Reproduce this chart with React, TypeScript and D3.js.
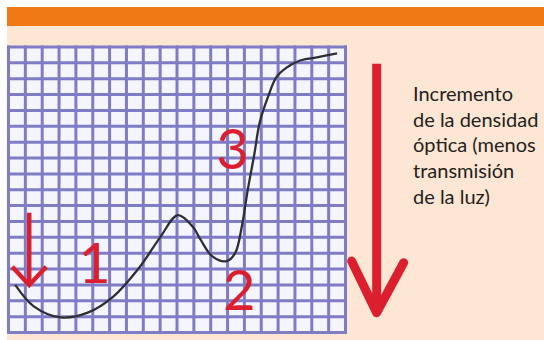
import React, { useEffect, useRef } from "react";
import * as d3 from "d3";

// curve traced on the grid (x in columns, y in rows from the bottom)
const curveX = [0.4, 1.5, 3.1, 4.7, 6.2, 7.8, 9.0, 10.05, 10.95, 11.4, 12.1, 12.95, 13.45, 13.85, 14.2, 14.6, 14.9, 15.4, 15.9, 16.5, 17.3, 18.3, 19.5];
const curveY = [3.0, 1.65, 0.95, 1.25, 2.25, 4.15, 6.0, 7.4, 6.65, 5.85, 4.8, 4.5, 5.0, 6.7, 9.0, 11.3, 13.2, 14.85, 16.1, 16.7, 17.15, 17.35, 17.6];

const stageLabels = ["1", "2", "3"];
const stageX = [5.1, 13.7, 13.3];
const stageY = [3.1, 1.45, 10.3];

const sideText = ["Incremento", "de la densidad", "óptica (menos", "transmisión", "de la luz)"];

const COLS = 20;
const ROWS = 18;

const App = () => {
  const ref = useRef<SVGSVGElement>(null);

  const width = 544;
  const height = 340;

  useEffect(() => {
    const svg = d3.select(ref.current);
    svg.selectAll("*").remove();

    const x = d3.scaleLinear().domain([0, COLS]).range([8.5, 345.5]);
    const y = d3.scaleLinear().domain([0, ROWS]).range([332.5, 47]);

    // page frame
    svg.append("rect").attr("x", 7).attr("y", 7).attr("width", width - 7).attr("height", height - 7).attr("fill", "#fde6d3");
    svg.append("rect").attr("x", 7).attr("y", 7).attr("width", width - 7).attr("height", 19).attr("fill", "#ef7914");

    // grid
    const grid = svg.append("g");
    grid.append("rect")
      .attr("x", x(0)).attr("y", y(ROWS))
      .attr("width", x(COLS) - x(0)).attr("height", y(0) - y(ROWS))
      .attr("fill", "#f5f5ff");
    grid.selectAll("line.v")
      .data(d3.range(0, COLS + 1))
      .enter()
      .append("line")
      .attr("x1", (d) => x(d)).attr("x2", (d) => x(d))
      .attr("y1", y(0) + 1.5).attr("y2", y(ROWS) - 1.5)
      .attr("stroke", "#7f7cc5")
      .attr("stroke-width", 3);
    grid.selectAll("line.h")
      .data(d3.range(0, ROWS + 1))
      .enter()
      .append("line")
      .attr("y1", (d) => y(d)).attr("y2", (d) => y(d))
      .attr("x1", x(0) - 1.5).attr("x2", x(COLS) + 1.5)
      .attr("stroke", "#7f7cc5")
      .attr("stroke-width", 3);

    // absorbance curve
    const pts: [number, number][] = curveX.map((d, i) => [d, curveY[i]]);
    const line = d3.line<[number, number]>()
      .x((d) => x(d[0]))
      .y((d) => y(d[1]))
      .curve(d3.curveCatmullRom.alpha(0.5));
    svg.append("path")
      .attr("d", line(pts))
      .attr("fill", "none")
      .attr("stroke", "#2f2f33")
      .attr("stroke-width", 2.3);

    // small red arrow on the left
    const red = "#dc1f2e";
    const ax = 1.23;
    svg.append("line")
      .attr("x1", x(ax)).attr("x2", x(ax))
      .attr("y1", y(7.55)).attr("y2", y(3.1))
      .attr("stroke", red).attr("stroke-width", 4.5);
    svg.append("polyline")
      .attr("points", [[x(ax) - 17, y(4.15)], [x(ax), y(3.0)], [x(ax) + 17, y(4.15)]].join(" "))
      .attr("fill", "none").attr("stroke", red).attr("stroke-width", 4.5);

    // stage numbers
    svg.selectAll("text.stage")
      .data(stageLabels)
      .enter()
      .append("text")
      .attr("x", (d, i) => x(stageX[i]))
      .attr("y", (d, i) => y(stageY[i]))
      .attr("text-anchor", "middle")
      .attr("font-family", "Lato, sans-serif")
      .attr("font-size", 56)
      .attr("fill", red)
      .text((d) => d);

    // big arrow on the right
    const bx = 21.85;
    svg.append("line")
      .attr("x1", x(bx)).attr("x2", x(bx))
      .attr("y1", y(16.95)).attr("y2", y(1.8))
      .attr("stroke", red).attr("stroke-width", 9);
    svg.append("polyline")
      .attr("points", [[x(bx) - 25, y(4.5)], [x(bx), y(1.25)], [x(bx) + 27, y(4.4)]].join(" "))
      .attr("fill", "none").attr("stroke", red).attr("stroke-width", 9)
      .attr("stroke-linejoin", "round").attr("stroke-linecap", "round");

    // side caption
    svg.selectAll("text.side")
      .data(sideText)
      .enter()
      .append("text")
      .attr("x", 413)
      .attr("y", (d, i) => 101 + i * 25.7)
      .attr("font-family", "Lato, sans-serif")
      .attr("font-size", 20)
      .attr("fill", "#231f20")
      .text((d) => d);
  }, []);

  return (
    <svg
      ref={ref}
      width={width}
      height={height}
      style={{ position: "absolute", left: 0, top: 0, background: "#fff" }}
    />
  );
};

export default App;
